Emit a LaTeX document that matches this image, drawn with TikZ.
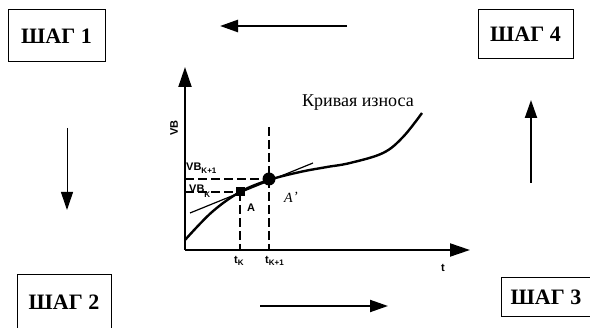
\documentclass[tikz,border=0pt]{standalone}
\usepackage{fontspec}
\setmainfont{Liberation Serif}
\newfontfamily\lsans{Liberation Sans}
\usetikzlibrary{arrows.meta}
\begin{document}
\begin{tikzpicture}[x=1pt,y=-1pt,
  stepbox/.style={draw,line width=1pt,inner sep=0pt,font=\bfseries\fontsize{22}{22}\selectfont},
  flow/.style={line width=#1,-{Triangle[length=18pt,width=12pt]}},
  axis/.style={line width=2pt,-{Triangle[length=20pt,width=13pt]}},
  guide/.style={line width=2.4pt,dash pattern=on 9pt off 4pt},
  small/.style={font=\lsans\bfseries\fontsize{11}{11}\selectfont,inner sep=0pt}
]
\useasboundingbox (0,0) rectangle (590,328);
% step boxes
\node[stepbox,minimum width=97pt,minimum height=52pt] (s1) at (56.5,36) {ШАГ 1};
\node[stepbox,minimum width=95pt,minimum height=49pt] (s4) at (525.5,34.5) {ШАГ 4};
\node[stepbox,minimum width=94pt,minimum height=54pt] (s2) at (64,302) {ШАГ 2};
\node[stepbox,minimum width=90pt,minimum height=39pt] (s3) at (546,297.5) {ШАГ 3};
% flow arrows
\coordinate (t0) at (347,26); \coordinate (t1) at (220,26);
\coordinate (b0) at (260,306); \coordinate (b1) at (388,306);
\coordinate (l0) at (67,128); \coordinate (l1) at (67,210);
\coordinate (r0) at (531,183); \coordinate (r1) at (531,100);
\draw[flow=2.5pt] (t0) -- (t1);
\draw[flow=2pt] (b0) -- (b1);
\draw[flow=1pt] (l0) -- (l1);
\draw[flow=2pt] (r0) -- (r1);
% graph
\coordinate (O) at (185,250);
\coordinate (yend) at (185,67);
\coordinate (xend) at (470,250);
\draw[axis] (O) -- (yend);
\draw[axis] (O) -- (xend);
\coordinate (A) at (240,192);
\coordinate (Ap) at (269,179);
\coordinate (yA) at (185,192);
\coordinate (yAp) at (185,179);
\coordinate (xA) at (240,250);
\coordinate (xAp) at (269,250);
\coordinate (vtop) at (269,127);
\draw[guide] (yA) -- (A);
\draw[guide] (yAp) -- (Ap);
\draw[guide] (A) -- (xA);
\draw[guide] (vtop) -- (xAp);
\coordinate (tg0) at (190,213);
\coordinate (tg1) at (313,163);
\draw[line width=1.2pt] (tg0) -- (tg1);
\draw[line width=2.4pt] plot[smooth,tension=0.6] coordinates {(185,240) (212,212) (240,192) (269,180) (300,172) (327,167) (350,163) (383,153) (403,137) (422,113)};
\node[fill,minimum size=9pt,inner sep=0pt] (Amark) at (A) {};
\node[circle,fill,minimum size=13pt,inner sep=0pt] (Apmark) at (Ap) {};
% labels
\node[small,rotate=90] (vb) at (174,128) {VB};
\node[small,anchor=west] (vbk1) at (186,168) {VB\raisebox{-3pt}{\fontsize{8}{8}\selectfont K+1}};
\node[small,anchor=west] (vbk) at (189,191) {VB\raisebox{-4.5pt}{\fontsize{8}{8}\selectfont K}};
\node[small] (Alab) at (251,208) {A};
\node[font=\itshape\fontsize{14}{14}\selectfont,inner sep=0pt] (Aplab) at (291,197) {A\kern0.5pt\raisebox{1pt}{'}};
\node[small,anchor=west] (tk) at (234,261) {t\raisebox{-2.5pt}{\fontsize{8}{8}\selectfont K}};
\node[small,anchor=west] (tk1) at (265,261) {t\raisebox{-2.5pt}{\fontsize{8}{8}\selectfont K+1}};
\node[small] (tl) at (443,268) {t};
\node[font=\fontsize{18}{18}\selectfont,inner sep=0pt] (curve) at (358,103) {Кривая износа};
\end{tikzpicture}
\end{document}
